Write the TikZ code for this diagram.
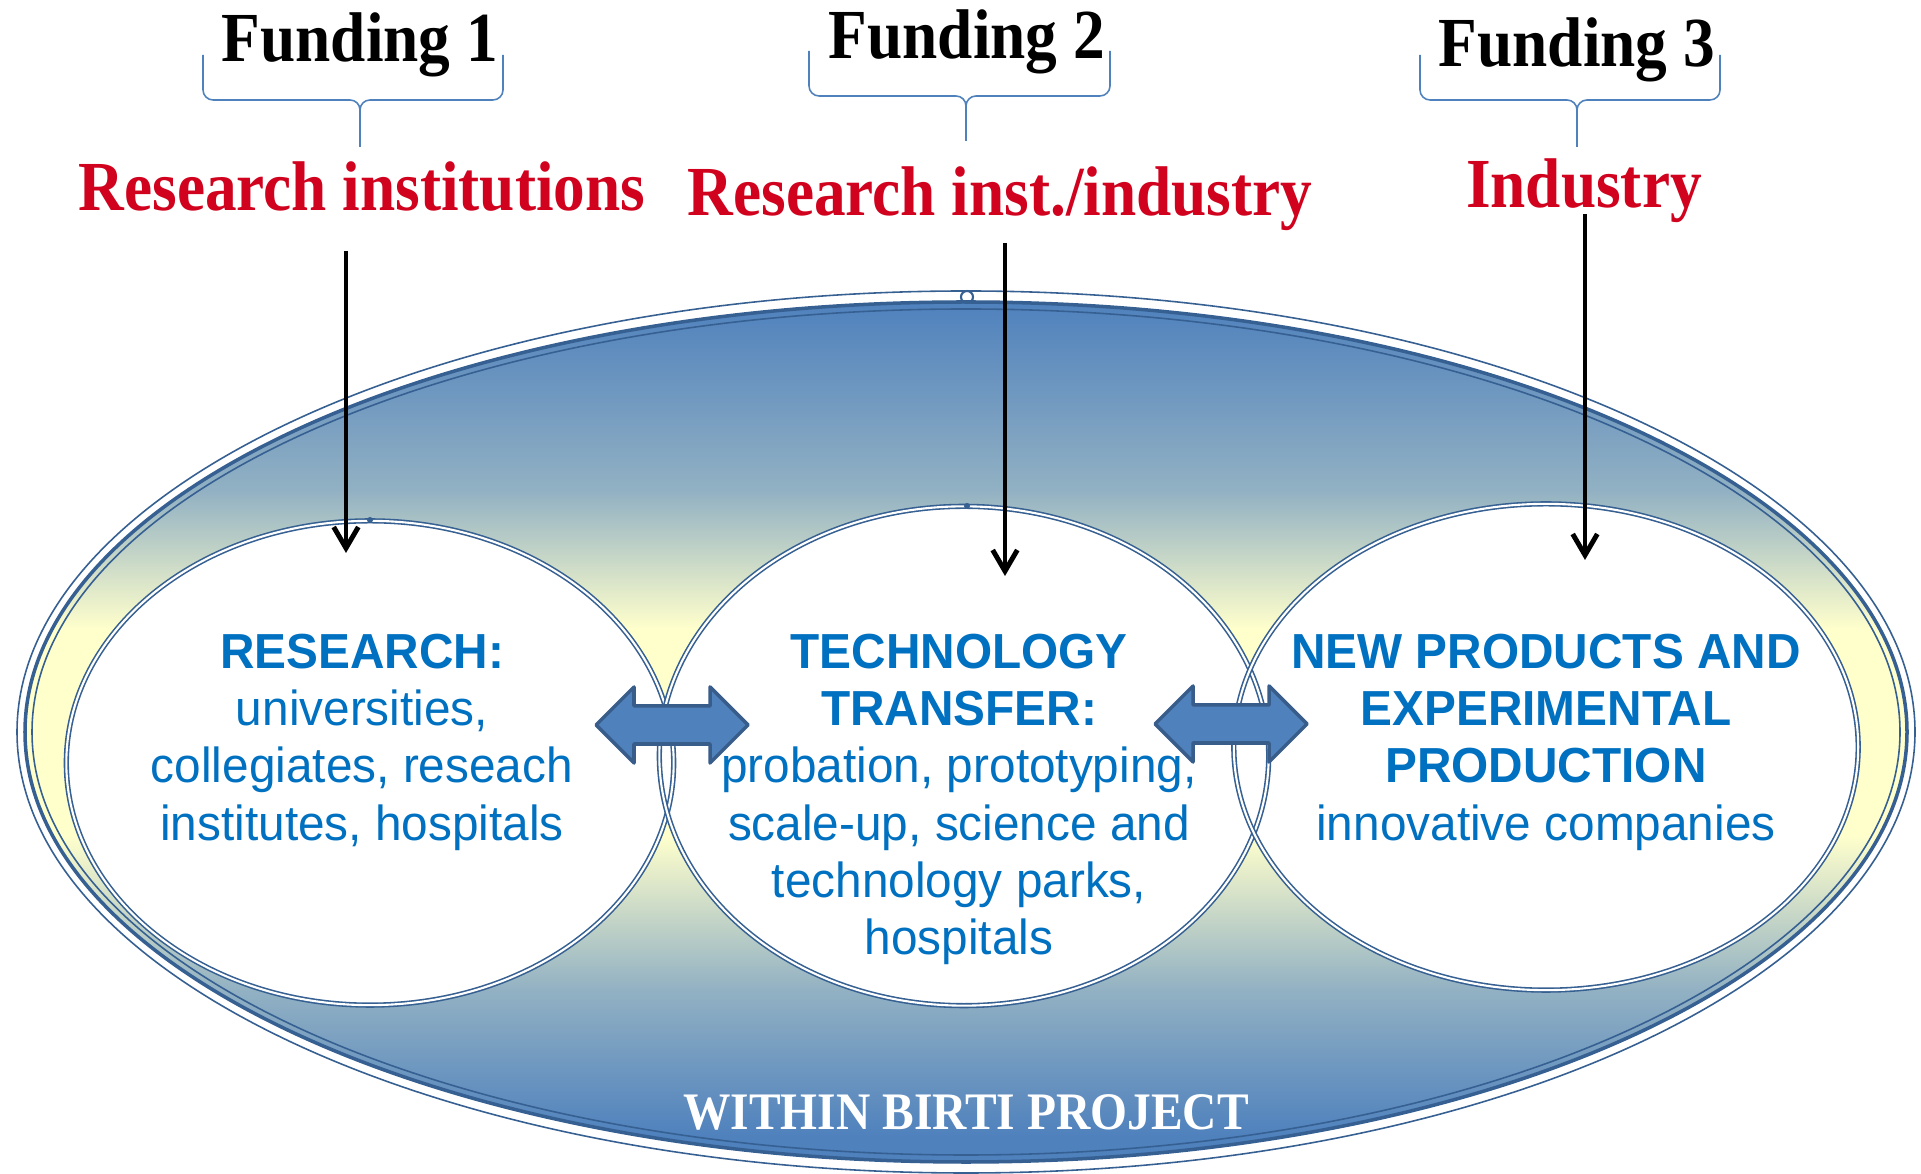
\documentclass[tikz,border=0pt]{standalone}
\usepackage{fontspec}
\usetikzlibrary{shapes.geometric,arrows.meta}
\newfontfamily\labelfont[FakeStretch=0.9]{Liberation Serif}
\newfontfamily\bodyfont[FakeStretch=0.97]{Liberation Sans}
\definecolor{ringblue}{RGB}{54,96,146}
\definecolor{fillblue}{RGB}{79,129,189}
\definecolor{paleyellow}{RGB}{255,255,204}
\definecolor{textblue}{RGB}{0,112,192}
\definecolor{labelred}{RGB}{208,2,30}
\definecolor{arrowedge}{RGB}{56,93,138}
\colorlet{fadeblue}{fillblue!62!paleyellow}
\pgfdeclareverticalshading{frameshade}{100bp}{color(0bp)=(fillblue); color(26.5bp)=(fillblue);
  color(35bp)=(fadeblue); color(44bp)=(paleyellow); color(56bp)=(paleyellow); color(64bp)=(fadeblue);
  color(75bp)=(fillblue); color(100bp)=(fillblue)}

\tikzset{
  funding/.style={font=\labelfont\bfseries\fontsize{20}{24}\selectfont, anchor=base, inner sep=0pt},
  actor/.style={funding, text=labelred},
  sector/.style={ellipse, fill=white, inner sep=0pt},
  ring/.style={draw=ringblue, double=white, line width=0.45pt, double distance=0.6pt},
  bodytext/.style={font=\bodyfont\fontsize{14}{16.3}\selectfont, text=textblue, align=center, anchor=north, inner sep=0pt},
  feed/.style={-{Straight Barb[length=6pt,width=7pt]}, line width=1.4pt},
  bracket/.style={draw=fillblue, line width=0.45pt, rounded corners=0.1cm},
  linkarrow/.style={fill=fillblue, draw=arrowedge, line width=1pt, line join=round}
}

\begin{document}
\begin{tikzpicture}[x=0.01cm, y=-0.01cm]
    \useasboundingbox (0,0) rectangle (1921,1174);

    % Project frame
    \shade[shading=frameshade] (966,732) ellipse [x radius=941, y radius=430];
    \draw[ringblue, line width=1pt] (966,732) ellipse [x radius=941, y radius=430];
    \draw[ringblue, line width=0.45pt] (966,732) ellipse [x radius=949, y radius=441];
    \draw[ringblue, line width=0.45pt] (966,732) ellipse [x radius=934, y radius=423];
    \draw[ringblue, line width=0.6pt] (967,297) circle [radius=6];

    % Sectors
    \foreach \n/\w/\h/\px/\py in {research/6.07/4.84/370/763, transfer/6.09/4.99/964/756, production/6.24/4.86/1546/747}
        \node[sector, minimum width=\w cm, minimum height=\h cm] (\n) at (\px,\py) {};
    \foreach \n/\w/\h in {research/6.07/4.84, transfer/6.09/4.99, production/6.24/4.86}
        \node[sector, ring, fill=none, minimum width=\w cm, minimum height=\h cm] at (\n) {};
    \fill[ringblue] (370,520) circle [radius=3];
    \fill[ringblue] (967,506) circle [radius=3];

    % Links between sectors
    \foreach \cx/\cy in {672/725, 1231/724}
        \draw[linkarrow] (\cx-76,\cy) -- ++(38,-38) -- ++(0,19) -- ++(76,0) -- ++(0,-19) -- ++(38,38)
            -- ++(-38,38) -- ++(0,-19) -- ++(-76,0) -- ++(0,19) -- cycle;

    % Funding labels and braces
    \node[funding] (fund1) at (360,62) {Funding 1};
    \node[funding] (fund2) at (967,59) {Funding 2};
    \node[funding] (fund3) at (1577,67) {Funding 3};
    \foreach \xa/\xm/\xb/\ya/\yb/\yc in {203/360/503/55/100/147, 809/966/1110/51/96/141, 1420/1577/1720/55/100/147} {
        \draw[bracket] (\xa,\ya) -- (\xa,\yb) -- (\xm,\yb) -- (\xm,\yc);
        \draw[bracket] (\xb,\ya) -- (\xb,\yb) -- (\xm,\yb) -- (\xm,\yc);
    }

    \node[actor] (inst) at (362,211) {Research institutions};
    \node[actor] (mixed) at (1000,216) {Research inst./industry};
    \node[actor] (industry) at (1584,208) {Industry};

    % Funding flows
    \coordinate (f1top) at (346,251);
    \coordinate (f1end) at (346,553);
    \coordinate (f2top) at (1005,243);
    \coordinate (f2end) at (1005,576);
    \coordinate (f3top) at (1585,214);
    \coordinate (f3end) at (1585,560);
    \draw[feed] (f1top) -- (f1end);
    \draw[feed] (f2top) -- (f2end);
    \draw[feed] (f3top) -- (f3end);

    % Sector texts
    \node[bodytext] (researchtext) at (362,633) {\textbf{RESEARCH:}\\ universities,\\ collegiates, reseach\\ institutes, hospitals};
    \node[bodytext] (transfertext) at (959,633) {\textbf{TECHNOLOGY}\\ \textbf{TRANSFER:}\\ probation, prototyping,\\ scale-up, science and\\ technology parks,\\ hospitals};
    \node[bodytext] (productiontext) at (1546,633) {\textbf{NEW PRODUCTS AND}\\ \textbf{EXPERIMENTAL}\\ \textbf{PRODUCTION}\\ innovative companies};

    \node[funding, text=white, font=\labelfont\bfseries\fontsize{15}{18}\selectfont] (birti) at (966,1130) {WITHIN BIRTI PROJECT};
\end{tikzpicture}
\end{document}
